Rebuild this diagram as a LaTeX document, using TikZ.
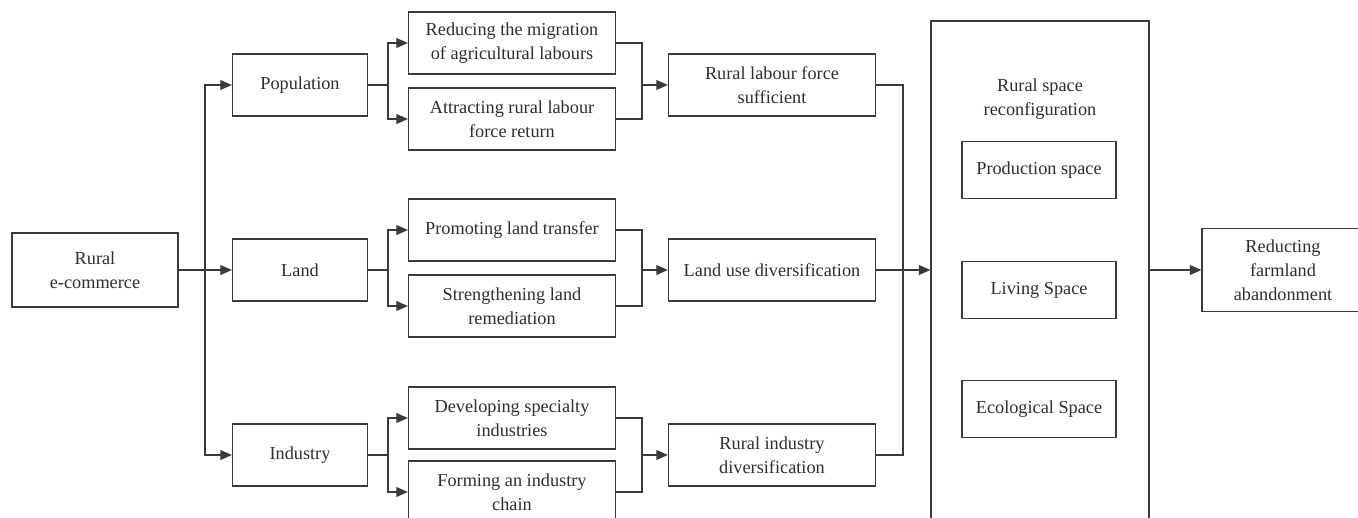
\documentclass[tikz,border=0pt]{standalone}
\usepackage{fontspec}
\setmainfont{Liberation Serif}
\usepackage{xcolor}
\usetikzlibrary{arrows.meta}
\definecolor{linegray}{HTML}{3A3A3A}
\definecolor{textgray}{HTML}{2E2E2E}

\begin{document}
\begin{tikzpicture}[x=0.02cm,y=-0.02cm,
  box/.style={draw=linegray,line width=0.7pt,align=center,inner sep=0pt,
    text=textgray,font=\fontsize{10.4}{13.6}\selectfont},
  small/.style={box,minimum width=2.7cm,minimum height=1.24cm},
  wide/.style={box,minimum width=4.14cm,minimum height=1.24cm},
  space/.style={box,minimum width=3.08cm,minimum height=1.14cm},
  conn/.style={draw=linegray,line width=0.7pt},
  arr/.style={conn,-{Triangle[length=6.6pt,width=5.6pt]}}]
\clip (0,0) rectangle (1358,517);
\fill[white] (0,0) rectangle (1358,517);
% left
\node [box,minimum width=3.32cm,minimum height=1.48cm] (ecom) at (95,270) {Rural\\e-commerce};
\node [small] (pop) at (300,85) {Population};
\node [small] (land) at (300,270) {Land};
\node [small] (ind) at (300,455) {Industry};
% middle
\node [wide] (red) at (512,43) {Reducing the migration\\of agricultural labours};
\node [wide] (att) at (512,119) {Attracting rural labour\\force return};
\node [wide] (prom) at (512,230) {Promoting land transfer};
\node [wide] (str) at (512,306) {Strengthening land\\remediation};
\node [wide] (dev) at (512,418) {Developing specialty\\industries};
\node [wide] (form) at (512,492) {Forming an industry\\chain};
\node [wide] (lab) at (772,85) {Rural labour force\\sufficient};
\node [wide] (luse) at (772,270) {Land use diversification};
\node [wide] (idiv) at (772,455) {Rural industry\\diversification};
% right
\node [box,minimum width=4.36cm,minimum height=10.6cm] (rsp) at (1040,286) {};
\node [box,draw=none] (rsptitle) at (1040,99) {Rural space\\reconfiguration};
\node [space] (prod) at (1039,170) {Production space};
\node [space] (liv) at (1039,290) {Living Space};
\node [space] (eco) at (1039,409) {Ecological Space};
\node [box,minimum width=3.24cm,minimum height=1.66cm] (fin) at (1283,270) {Reducting\\farmland\\abandonment};

% e-commerce to the three fields
\coordinate (b0) at (205,270);
\draw [arr] (ecom.east) -- (land.west);
\draw [arr] (b0) |- (pop.west);
\draw [arr] (b0) |- (ind.west);
% population
\draw [conn] (pop.east) -- ++(20,0) coordinate (b1);
\draw [arr] (b1) |- (red.west);
\draw [arr] (b1) |- (att.west);
\draw [conn] (red.east) -| (642,85) |- (att.east);
\draw [arr] (642,85) -- (lab.west);
% land
\draw [conn] (land.east) -- ++(20,0) coordinate (b2);
\draw [arr] (b2) |- (prom.west);
\draw [arr] (b2) |- (str.west);
\draw [conn] (prom.east) -| (642,270) |- (str.east);
\draw [arr] (642,270) -- (luse.west);
% industry
\draw [conn] (ind.east) -- ++(20,0) coordinate (b3);
\draw [arr] (b3) |- (dev.west);
\draw [arr] (b3) |- (form.west);
\draw [conn] (dev.east) -| (642,455) |- (form.east);
\draw [arr] (642,455) -- (idiv.west);
% to rural space and result
\coordinate (b4) at (903,270);
\draw [conn] (lab.east) -| (b4) |- (idiv.east);
\draw [arr] (luse.east) -- (luse.east -| rsp.west);
\draw [arr] (fin.west -| rsp.east) -- (fin.west);
\end{tikzpicture}
\end{document}
